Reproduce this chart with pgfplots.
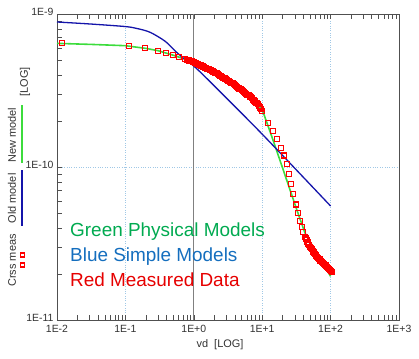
\documentclass[border=0pt]{standalone}
\usepackage{pgfplots}
\pgfplotsset{compat=1.18}
\usepackage{fontspec}
\setmainfont{Liberation Sans}
\definecolor{glin}{RGB}{60,220,60}
\definecolor{blin}{RGB}{20,20,170}
\definecolor{gtxt}{RGB}{0,170,80}
\definecolor{btxt}{RGB}{20,110,190}
\definecolor{rtxt}{RGB}{230,0,0}
\definecolor{gridc}{RGB}{160,200,230}
\definecolor{axc}{RGB}{80,80,80}
\definecolor{labc}{RGB}{50,50,50}
\begin{document}
\begin{tikzpicture}[x=1bp,y=1bp]
\begin{axis}[
  at={(0bp,0bp)}, anchor=south west,
  scale only axis, width=342bp, height=306bp,
  xmode=log, ymode=log,
  xmin=0.01, xmax=1000, ymin=1e-11, ymax=1e-9,
  axis line style={axc, line width=0.9pt},
  tick align=inside,
  xtick pos=both, ytick pos=left,
  major tick length=5bp, minor tick length=5bp,
  tick style={axc, line width=0.6pt},
  xtick={0.01,0.1,1,10,100,1000},
  xticklabels={1E-2,1E-1,1E+0,1E+1,1E+2,1E+3},
  minor xtick={0.02,0.03,0.04,0.05,0.06,0.07,0.08,0.09,0.2,0.3,0.4,0.5,0.6,0.7,0.8,0.9,2,3,4,5,6,7,8,9,20,30,40,50,60,70,80,90,200,300,400,500,600,700,800,900},
  ytick={1e-11,1e-10,1e-9},
  yticklabels={1E-11,1E-10,1E-9},
  minor ytick={2e-11,3e-11,4e-11,5e-11,6e-11,7e-11,8e-11,9e-11,2e-10,3e-10,4e-10,5e-10,6e-10,7e-10,8e-10,9e-10},
  ticklabel style={font=\fontsize{10.5}{12}\selectfont, text=labc},
  xticklabel style={yshift=-2bp},
  yticklabel style={yshift=2bp},
  grid=major,
  major grid style={gridc, dotted, line width=0.9pt},
  extra x ticks={1},
  extra x tick labels={},
  extra x tick style={grid=major, major grid style={solid, gray, line width=1.3pt}, major tick length=0pt},
  clip=true,
]
\addplot[only marks, mark=square, mark size=2.5bp, mark options={draw=red, line width=1.1pt}] coordinates {
(0.0117,6.43e-10) (0.114,6.21e-10) (0.194,5.97e-10) (0.303,5.75e-10) (0.393,5.58e-10) (0.501,5.37e-10) (0.614,5.21e-10) (0.743,5.06e-10)
(0.794,5.02e-10) (0.826,4.99e-10) (0.857,4.97e-10) (0.891,4.94e-10) (0.927,4.91e-10) (0.962,4.88e-10) (1.0,4.85e-10) (1.040,4.81e-10)
(1.079,4.78e-10) (1.122,4.74e-10) (1.167,4.70e-10) (1.211,4.66e-10) (1.259,4.61e-10) (1.309,4.58e-10) (1.358,4.54e-10) (1.413,4.50e-10)
(1.469,4.46e-10) (1.524,4.43e-10) (1.585,4.39e-10) (1.648,4.35e-10) (1.710,4.32e-10) (1.778,4.28e-10) (1.849,4.24e-10) (1.919,4.21e-10)
(1.995,4.17e-10) (2.075,4.13e-10) (2.153,4.09e-10) (2.239,4.04e-10) (2.328,4.00e-10) (2.415,3.96e-10) (2.512,3.92e-10) (2.612,3.87e-10)
(2.710,3.83e-10) (2.818,3.79e-10) (2.931,3.75e-10) (3.041,3.71e-10) (3.162,3.67e-10) (3.289,3.63e-10) (3.412,3.60e-10) (3.548,3.56e-10)
(3.690,3.52e-10) (3.828,3.47e-10) (3.981,3.43e-10) (4.140,3.39e-10) (4.295,3.34e-10) (4.467,3.30e-10) (4.645,3.26e-10) (4.819,3.22e-10)
(5.012,3.18e-10) (5.212,3.14e-10) (5.408,3.10e-10) (5.623,3.06e-10) (5.848,3.01e-10) (6.067,2.97e-10) (6.310,2.94e-10) (6.561,2.89e-10)
(6.808,2.85e-10) (7.079,2.81e-10) (7.362,2.76e-10) (7.638,2.72e-10) (7.943,2.68e-10) (8.260,2.63e-10) (8.570,2.58e-10) (8.913,2.51e-10)
(9.268,2.45e-10) (9.616,2.39e-10) (10.0,2.33e-10)
(12.3,1.95e-10) (14.5,1.72e-10) (16.6,1.52e-10) (18.6,1.34e-10) (20.8,1.19e-10) (22.8,1.05e-10) (24.7,8.98e-11) (26.6,7.72e-11)
(28.5,6.67e-11) (31.2,5.69e-11) (33.7,4.99e-11) (35.7,4.46e-11) (37.8,4.07e-11) (39.9,3.78e-11) (42.3,3.50e-11) (43.5,3.41e-11)
(44.7,3.33e-11) (46.0,3.25e-11) (47.3,3.16e-11) (48.7,3.08e-11) (50.1,3.01e-11) (51.6,2.95e-11) (53.1,2.90e-11) (54.6,2.84e-11)
(56.2,2.79e-11) (57.9,2.74e-11) (59.6,2.69e-11) (61.3,2.64e-11) (63.1,2.59e-11) (64.9,2.55e-11) (66.8,2.52e-11) (68.8,2.49e-11)
(70.8,2.45e-11) (72.9,2.42e-11) (75.0,2.39e-11) (77.2,2.36e-11) (79.4,2.33e-11) (81.7,2.30e-11) (84.1,2.28e-11) (86.6,2.25e-11)
(89.1,2.21e-11) (91.7,2.19e-11) (94.4,2.16e-11) (97.2,2.13e-11) (100,2.10e-11) (103.5,2.07e-11)
};
\addplot[glin, line width=1.6pt, no marks] coordinates {
(0.01,6.43e-10) (0.0316,6.33e-10) (0.1,6.21e-10) (0.2,5.96e-10) (0.3,5.76e-10) (0.5,5.38e-10) (0.75,5.06e-10) (1.0,4.88e-10)
(2.0,4.15e-10) (3.16,3.65e-10) (5.0,3.17e-10) (7.0,2.82e-10) (8.5,2.6e-10) (10.3,2.29e-10)
(13.9,1.57e-10) (18.8,1.06e-10) (24.7,7.4e-11) (32.3,5.2e-11) (42.3,3.7e-11) (65.5,2.65e-11) (100,1.93e-11)
};
\addplot[blin, line width=1.3pt, no marks, smooth, tension=0.5] coordinates {
(0.01,8.87e-10) (0.0314,8.6e-10) (0.1,8.28e-10) (0.148,8.04e-10) (0.229,7.6e-10) (0.379,6.65e-10) (0.531,5.75e-10)
(0.703,5.15e-10) (1.0,4.57e-10) (1.73,3.61e-10) (10,1.64e-10) (100,5.56e-11)
};
\end{axis}
% annotations
\node[anchor=base west, inner sep=0pt, text=gtxt, font=\fontsize{19}{22}\selectfont] at (13bp,83bp) {Green Physical Models};
\node[anchor=base west, inner sep=0pt, text=btxt, font=\fontsize{19}{22}\selectfont] at (13bp,58.5bp) {Blue Simple Models};
\node[anchor=base west, inner sep=0pt, text=rtxt, font=\fontsize{19}{22}\selectfont] at (13bp,34bp) {Red Measured Data};
% y label legend
\node[rotate=90, inner sep=0pt, text=labc, font=\fontsize{11}{13}\selectfont] at (-45bp,185bp) {New model};
\node[rotate=90, inner sep=0pt, text=labc, font=\fontsize{11}{13}\selectfont] at (-45bp,121.5bp) {Old model};
\node[rotate=90, inner sep=0pt, text=labc, font=\fontsize{11}{13}\selectfont] at (-45bp,59.5bp) {Crss meas};
\node[rotate=90, inner sep=0pt, text=labc, font=\fontsize{11}{13}\selectfont] at (-32bp,238bp) {[LOG]};
\draw[glin, line width=1.5pt] (-35bp,157bp) -- (-35bp,215bp);
\draw[blin, line width=1.5pt] (-35bp,94bp) -- (-35bp,150bp);
\draw[red, line width=1.1pt] (-36.5bp,63bp) rectangle (-32.5bp,67bp);
\draw[red, line width=1.1pt] (-36.5bp,53bp) rectangle (-32.5bp,57bp);
% x label
\node[text=labc, font=\fontsize{11}{13}\selectfont] at (163bp,-25bp) {vd\ \ [LOG]};
\pgfresetboundingbox
\useasboundingbox (-57bp,-39bp) rectangle (362bp,320bp);
\end{tikzpicture}
\end{document}
